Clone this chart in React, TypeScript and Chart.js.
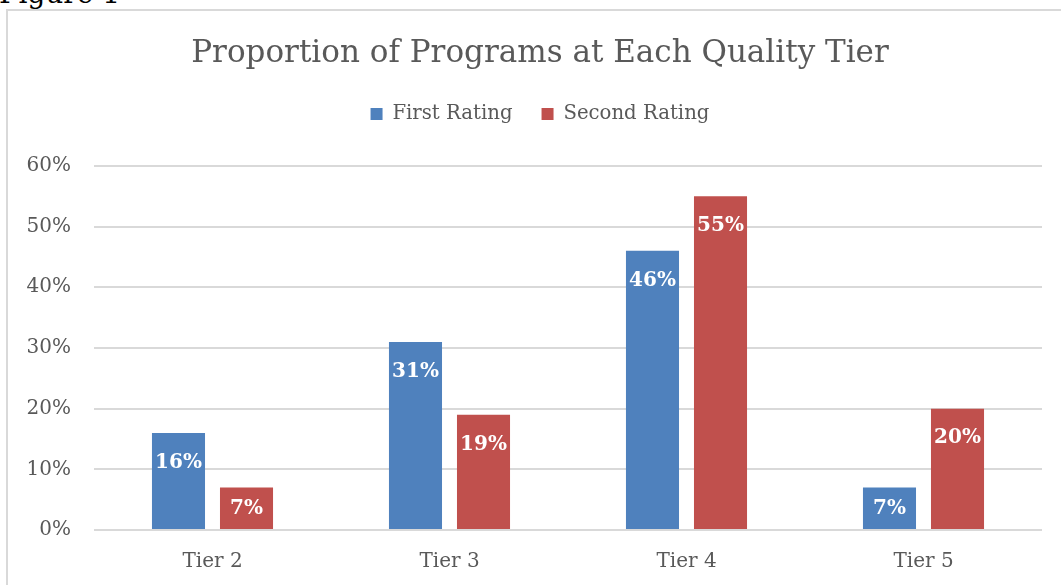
import { useEffect, useRef } from "react";
import { Chart, registerables } from "chart.js";

Chart.register(...registerables);

const categories = ["Tier 2", "Tier 3", "Tier 4", "Tier 5"];
const seriesNames = ["First Rating", "Second Rating"];
const firstRating = [16, 31, 46, 7];
const secondRating = [7, 19, 55, 20];
const yTickValues = [0, 10, 20, 30, 40, 50, 60];
const titleText = "Proportion of Programs at Each Quality Tier";
const figureLabel = "Figure 1";

const FONT = "'DejaVu Serif', serif";
const TEXT = "#595959";
const BLUE = "#4F81BD";
const RED = "#C0504D";
const GRID = "#d9d9d9";

const CANVAS_W = 1080;
const CANVAS_H = 585;

const barLabels = {
  id: "barLabels",
  afterDatasetsDraw(chart: any) {
    const ctx = chart.ctx;
    ctx.save();
    ctx.font = `bold 20px ${FONT}`;
    ctx.fillStyle = "#ffffff";
    ctx.textAlign = "center";
    ctx.textBaseline = "alphabetic";
    chart.data.datasets.forEach((ds: any, di: number) => {
      const meta = chart.getDatasetMeta(di);
      meta.data.forEach((bar: any, i: number) => {
        const { x, y, base } = bar.getProps(["x", "y", "base"], true);
        const h = base - y;
        const cy = y + Math.min(27.5, h * 0.46);
        ctx.fillText(`${ds.data[i]}%`, x, cy + 7.3);
      });
    });
    ctx.restore();
  },
};

export default function App() {
  const ref = useRef<HTMLCanvasElement>(null);
  useEffect(() => {
    const chart = new Chart(ref.current as HTMLCanvasElement, {
      type: "bar",
      data: {
        labels: categories,
        datasets: [
          {
            label: seriesNames[0],
            data: firstRating,
            backgroundColor: BLUE,
            categoryPercentage: 0.574,
            barPercentage: 0.78,
          },
          {
            label: seriesNames[1],
            data: secondRating,
            backgroundColor: RED,
            categoryPercentage: 0.574,
            barPercentage: 0.78,
          },
        ],
      },
      options: {
        responsive: false,
        animation: false,
        devicePixelRatio: 1,
        layout: { padding: { left: 0, right: 0, top: 0, bottom: 0 } },
        plugins: {
          title: {
            display: true,
            text: titleText,
            color: TEXT,
            font: { family: FONT, size: 31, weight: "normal" },
            padding: { top: 35, bottom: 3 },
          },
          legend: {
            display: true,
            position: "top",
            labels: {
              color: TEXT,
              font: { family: FONT, size: 19.7 },
              boxWidth: 12,
              boxHeight: 12,
              padding: 29,
            },
          },
          tooltip: { enabled: false },
        },
        scales: {
          x: {
            type: "category",
            position: "bottom",
            grid: { display: false, drawTicks: false },
            border: { display: false },
            ticks: { color: TEXT, font: { family: FONT, size: 20 }, padding: 20 },
            afterFit: (s: any) => {
              s.height = 55;
            },
          },
          xTop: {
            type: "category",
            axis: "x",
            position: "top",
            display: true,
            grid: { display: false, drawTicks: false },
            border: { display: false },
            ticks: { display: false },
            afterFit: (s: any) => {
              s.height = 32;
            },
          },
          y: {
            type: "linear",
            position: "left",
            min: 0,
            max: 60,
            grid: { color: GRID, lineWidth: 2, drawTicks: false },
            border: { display: false },
            ticks: {
              color: TEXT,
              font: { family: FONT, size: 20 },
              padding: 23,
              callback: (v: any) => `${v}%`,
            },
            afterBuildTicks: (s: any) => {
              s.ticks = yTickValues.map((v) => ({ value: v }));
            },
            afterFit: (s: any) => {
              s.width = 94;
            },
          },
          yRight: {
            type: "linear",
            axis: "y",
            position: "right",
            display: true,
            grid: { display: false, drawTicks: false },
            border: { display: false },
            ticks: { display: false },
            afterFit: (s: any) => {
              s.width = 38;
            },
          },
        } as any,
      },
      plugins: [barLabels],
    } as any);
    return () => chart.destroy();
  }, []);

  return (
    <div
      style={{
        position: "fixed",
        left: 0,
        top: 0,
        width: 1061,
        height: 585,
        overflow: "hidden",
        background: "#ffffff",
      }}
    >
      <div
        style={{
          position: "absolute",
          left: -1,
          top: -20,
          fontFamily: FONT,
          fontSize: 28,
          lineHeight: "28px",
          color: "#000000",
          whiteSpace: "nowrap",
        }}
      >
        {figureLabel}
      </div>
      <div
        style={{
          position: "absolute",
          left: 6,
          top: 9,
          width: 1100,
          height: 700,
          border: `2px solid ${GRID}`,
          boxSizing: "border-box",
        }}
      />
      <canvas
        ref={ref}
        width={CANVAS_W}
        height={CANVAS_H}
        style={{ position: "absolute", left: 0, top: 0, width: CANVAS_W, height: CANVAS_H }}
      />
    </div>
  );
}
